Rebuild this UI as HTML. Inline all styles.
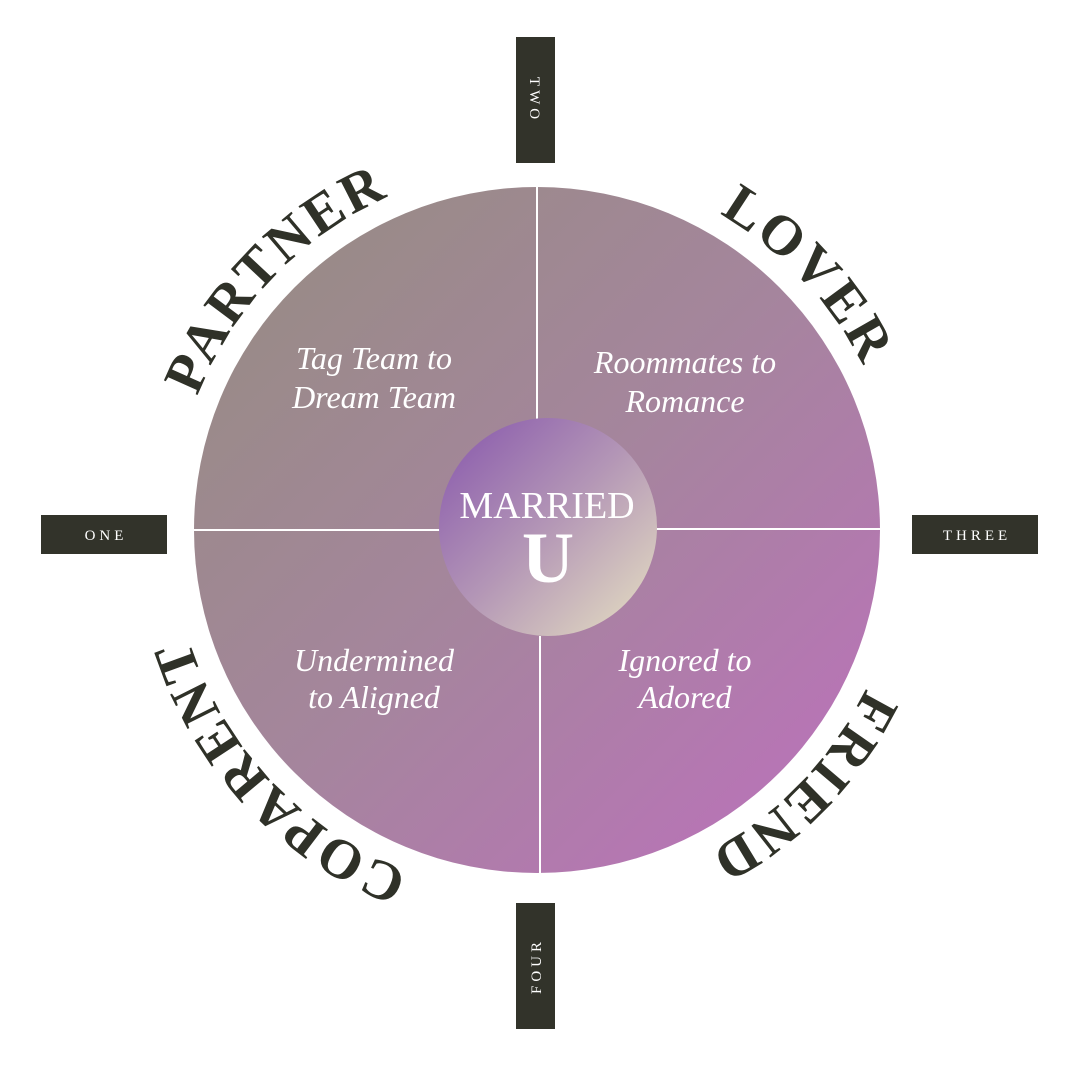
<!DOCTYPE html>
<html><head><meta charset="utf-8"><style>
html,body{margin:0;padding:0;background:#fff;}
svg{display:block;}
</style></head><body>
<svg width="1080" height="1080" viewBox="0 0 1080 1080" xmlns="http://www.w3.org/2000/svg">
<defs>
<linearGradient id="g1" x1="0" y1="0" x2="1" y2="1">
<stop offset="0" stop-color="#958d80"/>
<stop offset="0.5" stop-color="#a5859d"/>
<stop offset="1" stop-color="#be6fbe"/>
</linearGradient>
<linearGradient id="g2" x1="0.1" y1="0.1" x2="0.9" y2="0.9">
<stop offset="0" stop-color="#8f62ae"/>
<stop offset="0.5" stop-color="#b497b6"/>
<stop offset="1" stop-color="#ddd3c0"/>
</linearGradient>
<path id="arc" d="M 902 530 A 365 365 0 1 1 172 530 A 365 365 0 1 1 902 530"/>
</defs>
<circle cx="537" cy="530" r="343" fill="url(#g1)"/>
<line x1="537" y1="187" x2="537" y2="420" stroke="#fff" stroke-width="2"/>
<line x1="540" y1="636" x2="540" y2="876" stroke="#fff" stroke-width="2"/>
<line x1="194" y1="530" x2="440" y2="530" stroke="#fff" stroke-width="2"/>
<line x1="656" y1="529" x2="880" y2="529" stroke="#fff" stroke-width="2"/>
<circle cx="548" cy="527" r="109" fill="url(#g2)"/>
<g font-family="Liberation Serif, serif" fill="#fff" text-anchor="middle">
<text x="547" y="518" font-size="38">MARRIED</text>
<text x="548" y="582" font-size="72" font-weight="bold">U</text>
<g font-style="italic" font-size="32">
<text x="374" y="369">Tag Team to</text>
<text x="374" y="408">Dream Team</text>
<text x="685" y="373">Roommates to</text>
<text x="685" y="412">Romance</text>
<text x="374" y="671">Undermined</text>
<text x="374" y="708">to Aligned</text>
<text x="685" y="671">Ignored to</text>
<text x="685" y="708">Adored</text>
</g>
</g>
<g font-family="Liberation Serif, serif" fill="#2f3128" font-size="56" font-weight="bold" letter-spacing="3" text-anchor="middle">
<text><textPath href="#arc" startOffset="62.2%">PARTNER</textPath></text>
<text><textPath href="#arc" startOffset="88%">LOVER</textPath></text>
<text><textPath href="#arc" startOffset="12.2%">FRIEND</textPath></text>
<text><textPath href="#arc" startOffset="38%">COPARENT</textPath></text>
</g>
<g fill="#32332a">
<rect x="516" y="37" width="39" height="126"/>
<rect x="516" y="903" width="39" height="126"/>
<rect x="41" y="515" width="126" height="39"/>
<rect x="912" y="515" width="126" height="39"/>
</g>
<g font-family="Liberation Serif, serif" fill="#fff" font-size="15" letter-spacing="4" text-anchor="middle">
<text x="106" y="540">ONE</text>
<text x="977" y="540">THREE</text>
<text transform="translate(530,100) rotate(90)">TWO</text>
<text transform="translate(541,966) rotate(-90)">FOUR</text>
</g>
</svg>
</body></html>
